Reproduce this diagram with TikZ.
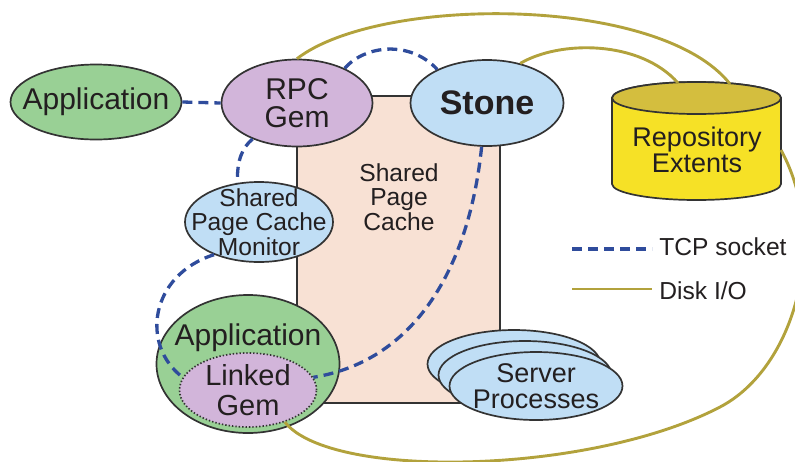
\documentclass[tikz,border=0pt]{standalone}
\usepackage{fontspec}
\setmainfont{Liberation Sans}
\usetikzlibrary{shapes.geometric}
\definecolor{appgreen}{RGB}{153,208,149}
\definecolor{gempurple}{RGB}{210,181,218}
\definecolor{procblue}{RGB}{192,222,245}
\definecolor{cachepeach}{RGB}{248,225,212}
\definecolor{repoyellow}{RGB}{246,225,38}
\definecolor{repoedge}{RGB}{204,186,52}
\definecolor{repocap}{RGB}{212,190,62}
\definecolor{diskolive}{RGB}{178,162,60}
\definecolor{tcpblue}{RGB}{47,76,156}
\definecolor{outl}{RGB}{51,51,51}
\definecolor{txtgray}{RGB}{35,31,32}
\pgfdeclarehorizontalshading{repobody}{100bp}{color(0bp)=(repoedge); color(22bp)=(repoyellow);
  color(78bp)=(repoyellow); color(100bp)=(repoedge)}

\begin{document}
\begin{tikzpicture}[x=0.5pt,y=-0.5pt,
  blob/.style={ellipse,draw=outl,line width=0.85pt,inner sep=0pt},
  big/.style={font=\fontsize{15}{14}\selectfont,align=center,text=txtgray},
  mid/.style={font=\fontsize{13.5}{13}\selectfont,align=center,text=txtgray},
  small/.style={font=\fontsize{12.3}{12.3}\selectfont,align=center,text=txtgray},
  tcp/.style={draw=tcpblue,line width=1.65pt,dash pattern=on 5pt off 3pt},
  disk/.style={draw=diskolive,line width=1.45pt}]
\useasboundingbox (0,0) rectangle (795,461);
\node[draw=outl,line width=0.85pt,fill=cachepeach,inner sep=0pt,minimum width=101.5pt,minimum height=153.5pt] (cache) at (398.5,249.5) {};
\node[small] (cachetext) at (399,197) {Shared\\Page\\Cache};
\node[blob,fill=appgreen,minimum width=85.5pt,minimum height=37.5pt,
  label={[big,name=apptext]center:Application}] (app) at (96,102) {};
\node[blob,fill=gempurple,minimum width=75.5pt,minimum height=43.5pt,
  label={[big,name=rpctext]center:RPC\\Gem}] (rpc) at (297,103) {};
\node[blob,fill=procblue,minimum width=76.5pt,minimum height=43pt,
  label={[text=txtgray,font=\fontsize{17}{17}\selectfont\bfseries,name=stonetext]center:Stone}] (stone) at (487,103) {};
\node[blob,fill=procblue,minimum width=74pt,minimum height=40pt,
  label={[small,name=monitortext]center:Shared\\Page Cache\\Monitor}] (monitor) at (259,222) {};
\node[blob,fill=appgreen,minimum width=91.5pt,minimum height=69pt] (app2) at (248,364) {};
\node[big,anchor=base,inner sep=0pt] (app2text) at (248,345) {Application};
\node[blob,dash pattern=on 0.7pt off 1pt,fill=gempurple,minimum width=68.5pt,minimum height=37pt,
  label={[big,font=\fontsize{14.5}{15}\selectfont,name=lgemtext]center:Linked\\Gem}] (lgem) at (248,390) {};
\foreach \k in {0,1}
  \node[blob,fill=procblue,minimum width=86.5pt,minimum height=34pt] (sp\k) at ({514+11*\k},{364+11*\k}) {};
\node[blob,fill=procblue,minimum width=86.5pt,minimum height=34pt,
  label={[mid,name=sptext]center:Server\\Processes}] (sp2) at (536,386) {};
\shade[shading=repobody,draw=outl,line width=0.85pt]
  (612,98) -- (612,184) arc[start angle=180,end angle=0,x radius=84.5,y radius=16]
  -- (781,98) arc[start angle=0,end angle=-180,x radius=84.5,y radius=16] -- cycle;
\filldraw[fill=repocap,draw=outl,line width=0.85pt] (696.5,98) ellipse[x radius=84.5,y radius=16];
\node[mid] (repotext) at (697,150) {Repository\\Extents};
\coordinate (repoA) at (730,84);
\coordinate (repoB) at (678,83);
\coordinate (repoC) at (781,150);
\coordinate (tcpA) at (572,249);
\coordinate (tcpB) at (652,249);
\coordinate (diskA) at (572,289);
\coordinate (diskB) at (652,289);
\node[small,anchor=base west,inner sep=0pt] (tcplabel) at (659,255) {TCP socket};
\node[small,anchor=base west,inner sep=0pt] (disklabel) at (659,299) {Disk I/O};

\draw[disk] (rpc.north) .. controls (380,-5) and (660,-5) .. (repoA);
\draw[disk] (stone.50) .. controls (560,40) and (640,40) .. (repoB);
\draw[disk] (lgem.-41) .. controls (330,480) and (590,475) .. (720,407)
  .. controls (795,368) and (830,240) .. (repoC);
\draw[disk] (diskA) -- (diskB);
\draw[tcp] (app.east) -- (rpc.west);
\draw[tcp] (rpc.36) .. controls (365,45) and (410,40) .. (stone.146);
\draw[tcp] (rpc.219) .. controls (242,148) and (237,160) .. (monitor.119);
\draw[tcp] (monitor.216) .. controls (150,275) and (140,345) .. (lgem.169);
\draw[tcp] (stone.263) .. controls (470,260) and (420,360) .. (lgem.11);
\draw[tcp] (tcpA) -- (tcpB);
\end{tikzpicture}
\end{document}
